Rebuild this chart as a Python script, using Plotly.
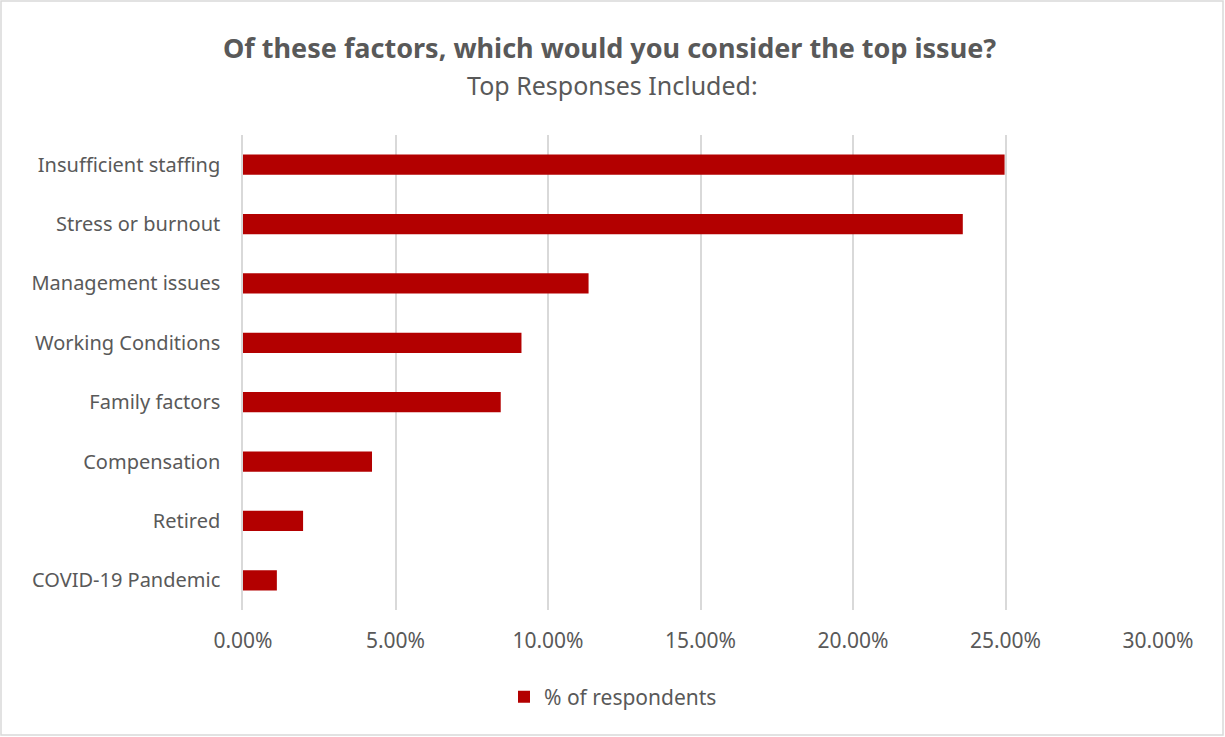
import plotly.graph_objects as go

categories = ["Insufficient staffing", "Stress or burnout", "Management issues",
              "Working Conditions", "Family factors", "Compensation", "Retired",
              "COVID-19 Pandemic"]
values = [0.2497, 0.2360, 0.1133, 0.0913, 0.0845, 0.0423, 0.0197, 0.0111]
series_name = "% of respondents"
tick_vals = [0, 0.05, 0.10, 0.15, 0.20, 0.25, 0.30]

FONT = "Noto Sans"
GRAY = "#595959"

# target positions in window pixels
PL, PR, PT, PB = 243, 1158, 135, 610
W, H = 1225, 737
L, T = PL, PT
R = W - PR
B = H - PB
pw, ph = W - L - R, H - T - B

def px_x(x):
    return (x - PL) / pw

def px_y(y):
    return (PB - y) / ph

fig = go.Figure()
fig.add_trace(go.Bar(
    y=categories, x=values, orientation="h", name=series_name,
    marker=dict(color="#b30000", line=dict(width=0)),
    width=0.34, showlegend=True,
))

fig.update_layout(
    width=W, height=H,
    margin=dict(l=L, r=R, t=T, b=B, autoexpand=False),
    paper_bgcolor="white", plot_bgcolor="white",
    font=dict(family=FONT, size=20, color=GRAY),
    xaxis=dict(range=[0, 0.30], tickvals=tick_vals, tickformat=".2%",
               showgrid=True, gridcolor="#d9d9d9", gridwidth=1.5,
               zeroline=False, showline=False, ticks="",
               tickfont=dict(size=21, color=GRAY), ticklabelstandoff=16),
    yaxis=dict(autorange="reversed", showgrid=False, zeroline=False,
               showline=True, linecolor="#d9d9d9", linewidth=1.5,
               ticks="", ticklabelstandoff=17,
               tickfont=dict(size=20, color=GRAY)),
    legend=dict(orientation="h", x=px_x(613), xanchor="center",
                y=px_y(697), yanchor="middle",
                font=dict(size=21, color=GRAY)),
    annotations=[
        dict(text="<b>Of these factors, which would you consider the top issue?</b>",
             xref="paper", yref="paper", x=px_x(609), y=px_y(48),
             showarrow=False, xanchor="center", yanchor="middle",
             font=dict(size=27, color=GRAY, family=FONT)),
        dict(text="Top Responses Included:",
             xref="paper", yref="paper", x=px_x(612), y=px_y(85),
             showarrow=False, xanchor="center", yanchor="middle",
             font=dict(size=25, color=GRAY, family=FONT)),
    ],
    shapes=[dict(type="rect", xref="paper", yref="paper",
                 x0=px_x(1), x1=px_x(1223),
                 y0=px_y(735), y1=px_y(1),
                 line=dict(color="#d9d9d9", width=1.5), layer="below")],
)

fig.write_html("out.html", config={"displayModeBar": False},
               post_script="document.body.style.margin='0';document.body.style.overflow='hidden';")
